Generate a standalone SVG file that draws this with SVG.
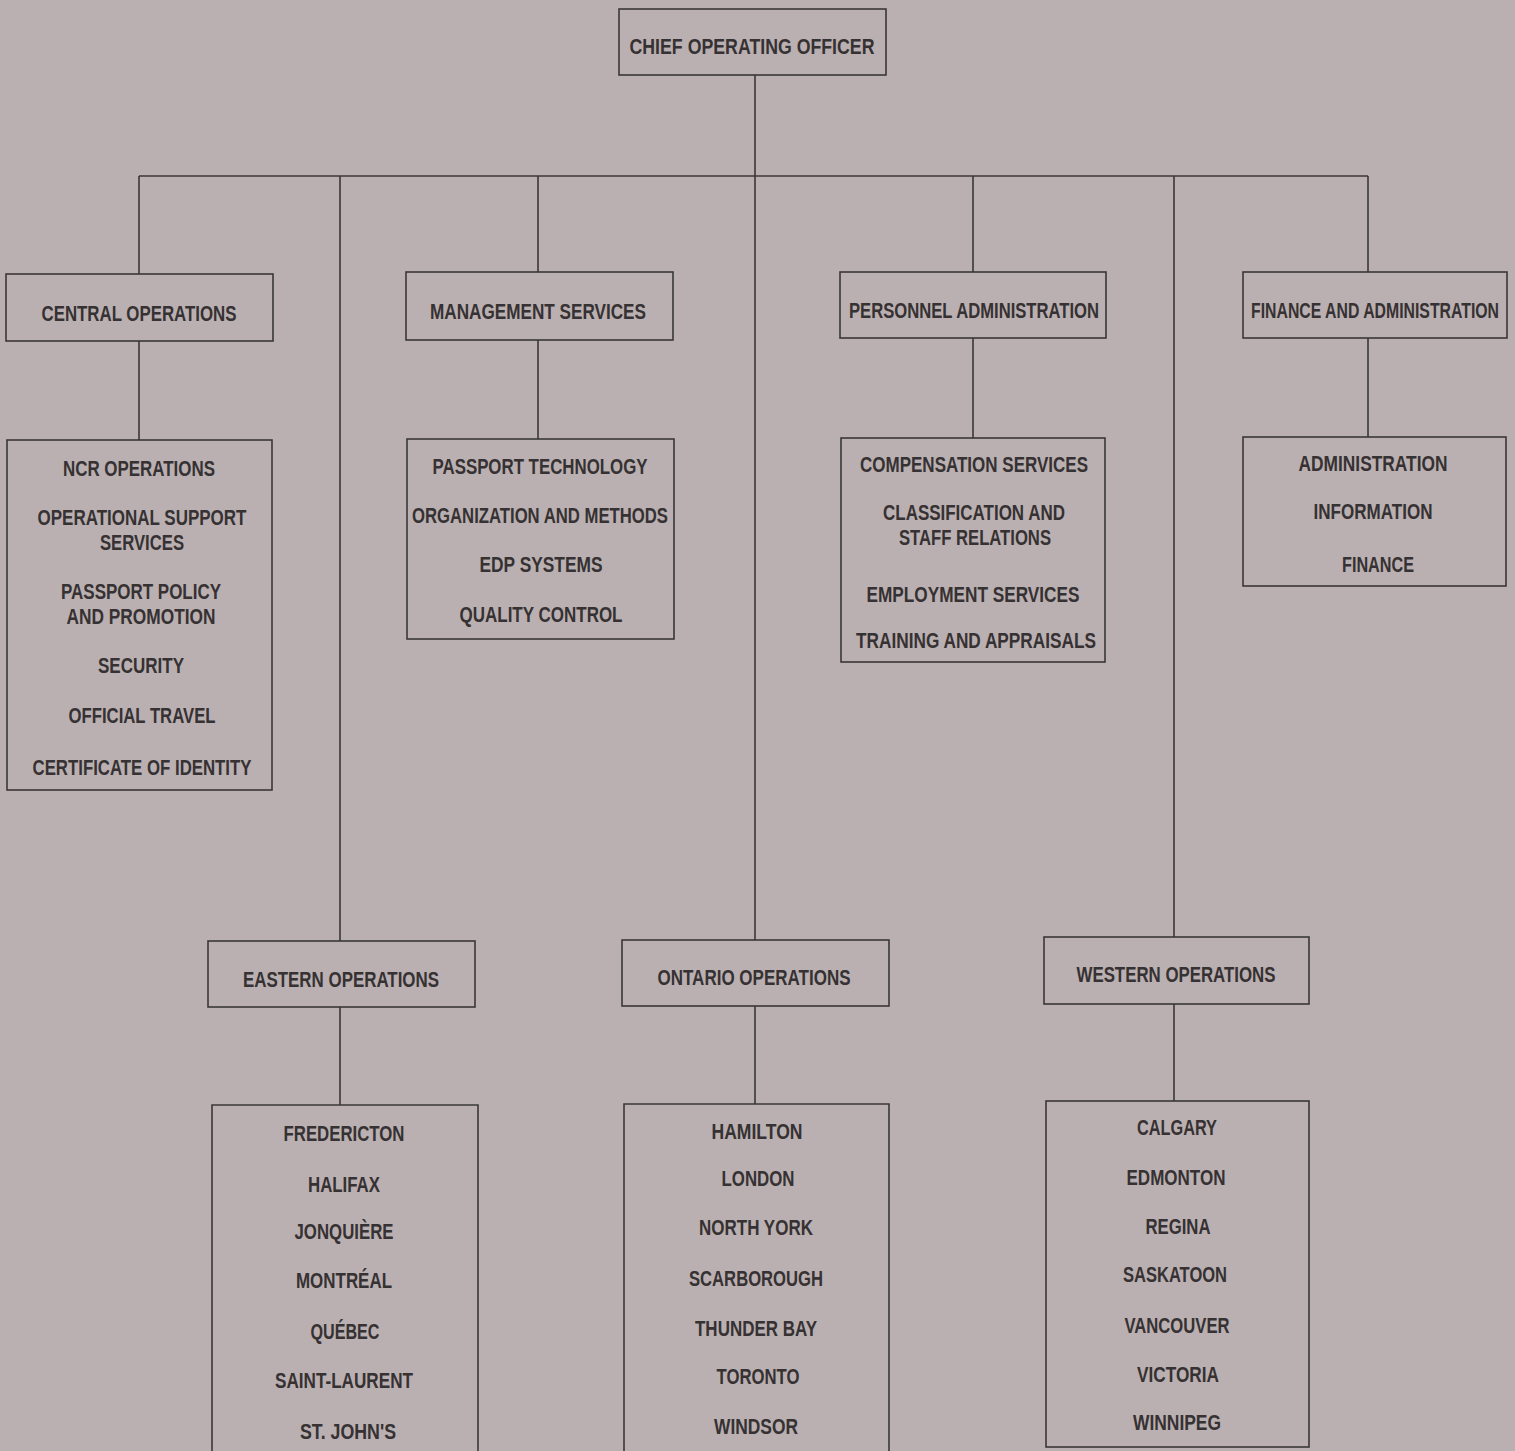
<svg xmlns="http://www.w3.org/2000/svg" width="1515" height="1451" viewBox="0 0 1515 1451">
<style>
.bg{fill:#bab0b1}
.box{fill:none;stroke:#3b3738;stroke-width:1.6}
.ln{fill:none;stroke:#3b3738;stroke-width:1.6}
text{font-family:"Liberation Sans Narrow","Liberation Sans",Arial,sans-serif;font-size:22px;font-weight:bold;fill:#363132;text-anchor:middle}
</style>
<rect class="bg" x="0" y="0" width="1515" height="1451"/>
<g id="connectors">
<path class="ln" d="M755 75V940"/>
<path class="ln" d="M139 176H1368"/>
<path class="ln" d="M139 176V274M340 176V941M538 176V272M973 176V272M1174 176V937M1368 176V272"/>
<path class="ln" d="M139 341V440M538 340V439M973 338V438M1368 338V437"/>
<path class="ln" d="M340 1007V1105M755 1006V1104M1174 1004V1101"/>
</g>
<g id="coo">
<rect class="box" x="619" y="9" width="267" height="66"/>
<text x="752" y="54" textLength="245" lengthAdjust="spacingAndGlyphs">CHIEF OPERATING OFFICER</text>
</g>
<g id="central-operations">
<rect class="box" x="6" y="274" width="267" height="67"/>
<text x="139" y="321" textLength="195" lengthAdjust="spacingAndGlyphs">CENTRAL OPERATIONS</text>
</g>
<g id="central-units">
<rect class="box" x="7" y="440" width="265" height="350"/>
<text x="139" y="476" textLength="152" lengthAdjust="spacingAndGlyphs">NCR OPERATIONS</text>
<text x="142" y="525" textLength="209" lengthAdjust="spacingAndGlyphs">OPERATIONAL SUPPORT</text>
<text x="142" y="550" textLength="84" lengthAdjust="spacingAndGlyphs">SERVICES</text>
<text x="141" y="599" textLength="160" lengthAdjust="spacingAndGlyphs">PASSPORT POLICY</text>
<text x="141" y="624" textLength="149" lengthAdjust="spacingAndGlyphs">AND PROMOTION</text>
<text x="141" y="673" textLength="86" lengthAdjust="spacingAndGlyphs">SECURITY</text>
<text x="142" y="723" textLength="147" lengthAdjust="spacingAndGlyphs">OFFICIAL TRAVEL</text>
<text x="142" y="775" textLength="219" lengthAdjust="spacingAndGlyphs">CERTIFICATE OF IDENTITY</text>
</g>
<g id="management-services">
<rect class="box" x="406" y="272" width="267" height="68"/>
<text x="538" y="319" textLength="216" lengthAdjust="spacingAndGlyphs">MANAGEMENT SERVICES</text>
</g>
<g id="management-units">
<rect class="box" x="407" y="439" width="267" height="200"/>
<text x="540" y="474" textLength="215" lengthAdjust="spacingAndGlyphs">PASSPORT TECHNOLOGY</text>
<text x="540" y="523" textLength="256" lengthAdjust="spacingAndGlyphs">ORGANIZATION AND METHODS</text>
<text x="541" y="572" textLength="123" lengthAdjust="spacingAndGlyphs">EDP SYSTEMS</text>
<text x="541" y="622" textLength="163" lengthAdjust="spacingAndGlyphs">QUALITY CONTROL</text>
</g>
<g id="personnel-administration">
<rect class="box" x="840" y="272" width="266" height="66"/>
<text x="974" y="318" textLength="250" lengthAdjust="spacingAndGlyphs">PERSONNEL ADMINISTRATION</text>
</g>
<g id="personnel-units">
<rect class="box" x="841" y="438" width="264" height="224"/>
<text x="974" y="472" textLength="228" lengthAdjust="spacingAndGlyphs">COMPENSATION SERVICES</text>
<text x="974" y="520" textLength="182" lengthAdjust="spacingAndGlyphs">CLASSIFICATION AND</text>
<text x="975" y="545" textLength="152" lengthAdjust="spacingAndGlyphs">STAFF RELATIONS</text>
<text x="973" y="602" textLength="213" lengthAdjust="spacingAndGlyphs">EMPLOYMENT SERVICES</text>
<text x="976" y="648" textLength="240" lengthAdjust="spacingAndGlyphs">TRAINING AND APPRAISALS</text>
</g>
<g id="finance-administration">
<rect class="box" x="1243" y="272" width="264" height="66"/>
<text x="1375" y="318" textLength="248" lengthAdjust="spacingAndGlyphs">FINANCE AND ADMINISTRATION</text>
</g>
<g id="finance-units">
<rect class="box" x="1243" y="437" width="263" height="149"/>
<text x="1373" y="471" textLength="149" lengthAdjust="spacingAndGlyphs">ADMINISTRATION</text>
<text x="1373" y="519" textLength="119" lengthAdjust="spacingAndGlyphs">INFORMATION</text>
<text x="1378" y="572" textLength="72" lengthAdjust="spacingAndGlyphs">FINANCE</text>
</g>
<g id="eastern-operations">
<rect class="box" x="208" y="941" width="267" height="66"/>
<text x="341" y="987" textLength="196" lengthAdjust="spacingAndGlyphs">EASTERN OPERATIONS</text>
</g>
<g id="eastern-units">
<path class="box" d="M212 1460V1105H478V1460"/>
<text x="344" y="1141" textLength="121" lengthAdjust="spacingAndGlyphs">FREDERICTON</text>
<text x="344" y="1192" textLength="72" lengthAdjust="spacingAndGlyphs">HALIFAX</text>
<text x="344" y="1239" textLength="99" lengthAdjust="spacingAndGlyphs">JONQUIÈRE</text>
<text x="344" y="1288" textLength="96" lengthAdjust="spacingAndGlyphs">MONTRÉAL</text>
<text x="345" y="1339" textLength="69" lengthAdjust="spacingAndGlyphs">QUÉBEC</text>
<text x="344" y="1388" textLength="138" lengthAdjust="spacingAndGlyphs">SAINT-LAURENT</text>
<text x="348" y="1439" textLength="96" lengthAdjust="spacingAndGlyphs">ST. JOHN'S</text>
</g>
<g id="ontario-operations">
<rect class="box" x="622" y="940" width="267" height="66"/>
<text x="754" y="985" textLength="193" lengthAdjust="spacingAndGlyphs">ONTARIO OPERATIONS</text>
</g>
<g id="ontario-units">
<path class="box" d="M624 1460V1104H889V1460"/>
<text x="757" y="1139" textLength="91" lengthAdjust="spacingAndGlyphs">HAMILTON</text>
<text x="758" y="1186" textLength="73" lengthAdjust="spacingAndGlyphs">LONDON</text>
<text x="756" y="1235" textLength="114" lengthAdjust="spacingAndGlyphs">NORTH YORK</text>
<text x="756" y="1286" textLength="134" lengthAdjust="spacingAndGlyphs">SCARBOROUGH</text>
<text x="756" y="1336" textLength="122" lengthAdjust="spacingAndGlyphs">THUNDER BAY</text>
<text x="758" y="1384" textLength="83" lengthAdjust="spacingAndGlyphs">TORONTO</text>
<text x="756" y="1434" textLength="84" lengthAdjust="spacingAndGlyphs">WINDSOR</text>
</g>
<g id="western-operations">
<rect class="box" x="1044" y="937" width="265" height="67"/>
<text x="1176" y="982" textLength="199" lengthAdjust="spacingAndGlyphs">WESTERN OPERATIONS</text>
</g>
<g id="western-units">
<rect class="box" x="1046" y="1101" width="263" height="346"/>
<text x="1177" y="1135" textLength="80" lengthAdjust="spacingAndGlyphs">CALGARY</text>
<text x="1176" y="1185" textLength="99" lengthAdjust="spacingAndGlyphs">EDMONTON</text>
<text x="1178" y="1234" textLength="65" lengthAdjust="spacingAndGlyphs">REGINA</text>
<text x="1175" y="1282" textLength="104" lengthAdjust="spacingAndGlyphs">SASKATOON</text>
<text x="1177" y="1333" textLength="105" lengthAdjust="spacingAndGlyphs">VANCOUVER</text>
<text x="1178" y="1382" textLength="82" lengthAdjust="spacingAndGlyphs">VICTORIA</text>
<text x="1177" y="1430" textLength="88" lengthAdjust="spacingAndGlyphs">WINNIPEG</text>
</g>
</svg>
